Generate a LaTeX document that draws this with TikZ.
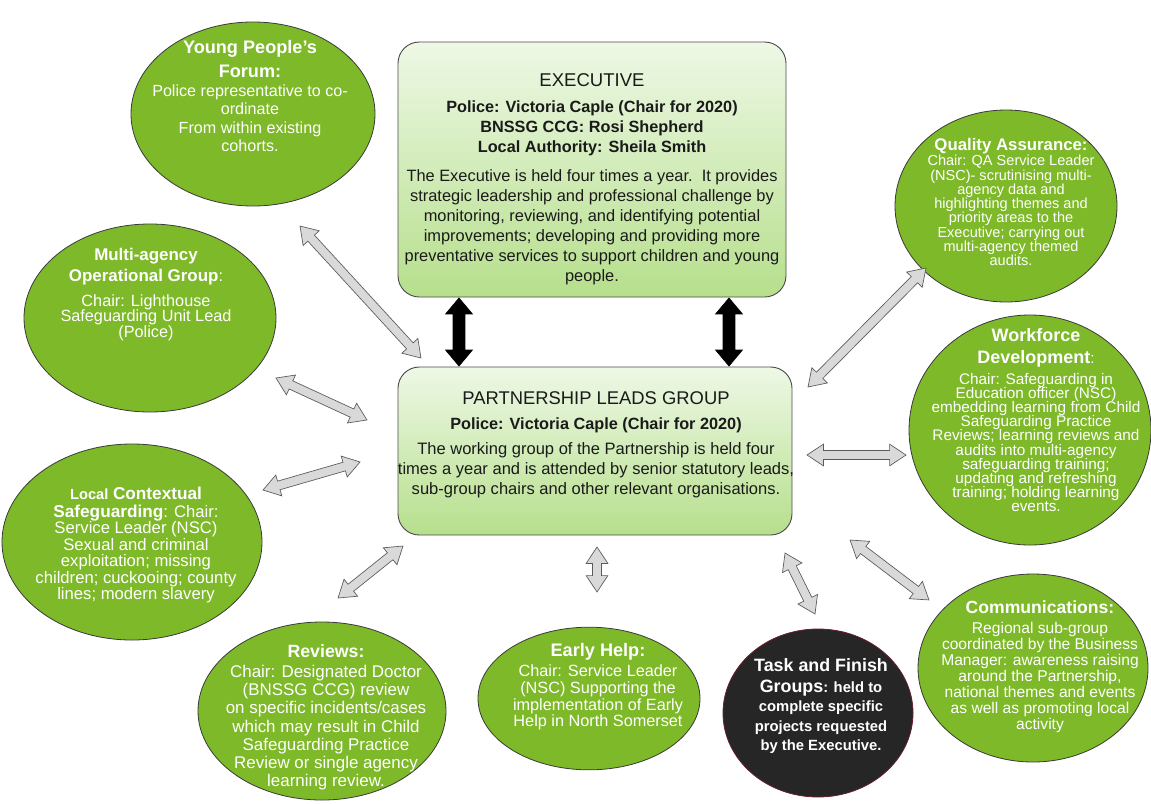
\documentclass[tikz,border=0pt]{standalone}
\usepackage{fontspec}
\setmainfont{Liberation Sans}
\usetikzlibrary{shapes.geometric,shapes.arrows,calc}
\definecolor{egreen}{HTML}{7DB928}
\definecolor{eline}{HTML}{3A3A3A}
\definecolor{tfill}{HTML}{262626}
\definecolor{tline}{HTML}{6A1E2A}
\definecolor{boxtop}{HTML}{EEF8E6}
\definecolor{boxbot}{HTML}{B6DF8C}
\definecolor{boxline}{HTML}{4D4D4D}
\definecolor{arrfill}{HTML}{D9D9D9}
\definecolor{arrline}{HTML}{5A5A5A}
\definecolor{btxt}{HTML}{1A1A1A}
\newcommand\fsz[2]{\fontsize{#1}{#2}\selectfont\lineskiplimit=-20pt\relax}
\newcommand\ttl[2][13.5]{{\bfseries\fontsize{#1}{#1}\selectfont #2}}
\newcommand\blockarrow[4]{%
  \path let \p1=($(#4)-(#3)$), \n1={atan2(\y1,\x1)}, \n2={veclen(\x1,\y1)} in
    node[#1, minimum height=\n2, rotate=\n1] (#2) at ($(#3)!0.5!(#4)$) {};}
\tikzset{
  gellipse/.style={ellipse, draw=eline, line width=0.6pt, fill=egreen, inner sep=0pt},
  etext/.style={text=white, align=center, inner sep=0pt},
  roundbox/.style={draw=boxline, line width=0.7pt, rounded corners=16pt, top color=boxtop, bottom color=boxbot, inner sep=0pt},
  btext/.style={text=btxt, align=center, inner sep=0pt},
  grayarr/.style={double arrow, draw=arrline, fill=arrfill, line width=0.5pt, inner xsep=0pt, inner ysep=3.1pt, minimum width=0pt, double arrow head extend=4.8pt, double arrow tip angle=67, double arrow head indent=0pt},
  blackarr/.style={double arrow, draw=black, fill=black, line width=0.5pt, inner xsep=0pt, inner ysep=4.2pt, minimum width=0pt, double arrow head extend=5.6pt, double arrow tip angle=80, double arrow head indent=0pt},
}
\begin{document}
\begin{tikzpicture}[x=0.75pt,y=-0.75pt]
\useasboundingbox[fill=white] (0,0) rectangle (1151,803);

% boxes
\node[roundbox, minimum width=291pt, minimum height=191.25pt] (exec) at (592,169.5) {};
\node[roundbox, minimum width=295.5pt, minimum height=126pt] (plg) at (595,451) {};

\node[btext, font=\fsz{13.9}{15}] (ex-t) at (592,80) {EXECUTIVE};
\node[btext, font=\bfseries\fsz{12.2}{15}] (ex-b) at (592,128) {Police: Victoria Caple (Chair for 2020)\\BNSSG CCG: Rosi Shepherd\\Local Authority: Sheila Smith};
\node[btext, font=\fsz{12.3}{15}] (ex-d) at (592,227) {The Executive is held four times a year.\ \ It provides\\strategic leadership and professional challenge by\\monitoring, reviewing, and identifying potential\\improvements; developing and providing more\\preventative services to support children and young\\people.};

\node[btext, font=\fsz{13.8}{15}] (pl-t) at (596,398) {PARTNERSHIP LEADS GROUP};
\node[btext, font=\bfseries\fsz{12.2}{15}] (pl-b) at (596,425) {Police: Victoria Caple (Chair for 2020)};
\node[btext, font=\fsz{12.4}{15}] (pl-d) at (596,470) {The working group of the Partnership is held four\\times a year and is attended by senior statutory leads,\\sub-group chairs and other relevant organisations.};

% ellipses
\node[gellipse, minimum width=183pt, minimum height=138pt] (ypf) at (253,114) {};
\node[gellipse, minimum width=189pt, minimum height=141pt] (maog) at (150,318) {};
\node[gellipse, minimum width=166.5pt, minimum height=144pt] (qa) at (1006,206) {};
\node[gellipse, minimum width=181.5pt, minimum height=172.5pt] (wd) at (1030,430) {};
\node[gellipse, minimum width=195pt, minimum height=147pt] (lcs) at (132,542) {};
\node[gellipse, minimum width=186pt, minimum height=133.5pt] (rev) at (322,711) {};
\node[gellipse, minimum width=166.5pt, minimum height=107pt] (eh) at (589,698.5) {};
\node[gellipse, fill=tfill, draw=tline, minimum width=142.5pt, minimum height=126pt] (tf) at (818,713) {};
\node[gellipse, minimum width=172.5pt, minimum height=141pt] (com) at (1033,668) {};

% ellipse texts
\node[etext, font=\fsz{12.1}{13.7}] (ypf-t) at (250,96) {\ttl[13.6]{Young People’s}\\[4.3pt]\ttl[13.6]{Forum:}\\[0.6pt]Police representative to co-\\ordinate\\From within existing\\cohorts.};
\node[etext, font=\fsz{12.2}{11.6}] (maog-t) at (146,294.5) {\ttl[12.7]{Multi-agency}\\[4.1pt]\ttl[12.7]{Operational Group}:\\[7.1pt]Chair: Lighthouse\\Safeguarding Unit Lead\\(Police)};
\node[etext, font=\fsz{10.9}{10.7}] (qa-t) at (1011,202) {\ttl[12.6]{Quality Assurance:}\\[0.8pt]Chair: QA Service Leader\\(NSC)- scrutinising multi-\\agency data and\\highlighting themes and\\priority areas to the\\Executive; carrying out\\multi-agency themed\\audits.};
\node[etext, font=\fsz{11.5}{10.6}] (wd-t) at (1036,420) {\ttl{Workforce}\\[5.9pt]\ttl{Development}:\\[5.2pt]Chair: Safeguarding in\\Education officer (NSC)\\embedding learning from Child\\Safeguarding Practice\\Reviews; learning reviews and\\audits into multi-agency\\safeguarding training;\\updating and refreshing\\training; holding learning\\events.};
\node[etext, font=\fsz{12.5}{12.4}] (lcs-t) at (136,545) {\ttl[11]{Local} \ttl[12.9]{Contextual}\\[1.2pt]\ttl[12.9]{Safeguarding}: Chair:\\Service Leader (NSC)\\Sexual and criminal\\exploitation; missing\\children; cuckooing; county\\lines; modern slavery};
\node[etext, font=\fsz{12.7}{13.7}] (rev-t) at (326,717.5) {\ttl[13.3]{Reviews:}\\[1.3pt]Chair: Designated Doctor\\(BNSSG CCG) review\\on specific incidents/cases\\which may result in Child\\Safeguarding Practice\\Review or single agency\\learning review.};
\node[etext, font=\fsz{12.2}{12.5}] (eh-t) at (598,687) {\ttl[13.6]{Early Help:}\\[2.5pt]Chair: Service Leader\\(NSC) Supporting the\\implementation of Early\\Help in North Somerset};
\node[etext, font=\bfseries\fsz{11.1}{14.4}] (tf-t) at (821,706) {\ttl[13.4]{Task and Finish}\\[1.3pt]\ttl[13.4]{Groups}: held to\\complete specific\\projects requested\\by the Executive.};
\node[etext, font=\fsz{11.7}{12}] (com-t) at (1040,667) {\ttl[13.2]{Communications:}\\[3pt]Regional sub-group\\coordinated by the Business\\Manager: awareness raising\\around the Partnership,\\national themes and events\\as well as promoting local\\activity};

% arrow end points
\coordinate (k1a) at (459,298); \coordinate (k1b) at (459,366);
\coordinate (k2a) at (729,298); \coordinate (k2b) at (729,366);
\coordinate (ypf-a) at (300,226); \coordinate (ypf-b) at (421,358);
\coordinate (maog-a) at (276,378); \coordinate (maog-b) at (367,420);
\coordinate (lcs-a) at (263,490); \coordinate (lcs-b) at (360,462);
\coordinate (rev-a) at (338,598); \coordinate (rev-b) at (403,546);
\coordinate (eh-a) at (597,592); \coordinate (eh-b) at (597,547);
\coordinate (tf-a) at (815,614); \coordinate (tf-b) at (785,553);
\coordinate (com-a) at (929,600); \coordinate (com-b) at (850,540);
\coordinate (wd-a) at (906,455); \coordinate (wd-b) at (807,455);
\coordinate (qa-a) at (926,268); \coordinate (qa-b) at (808,387);

\blockarrow{blackarr}{k1}{k1a}{k1b}
\blockarrow{blackarr}{k2}{k2a}{k2b}
\blockarrow{grayarr}{ypf-arr}{ypf-a}{ypf-b}
\blockarrow{grayarr}{maog-arr}{maog-a}{maog-b}
\blockarrow{grayarr}{lcs-arr}{lcs-a}{lcs-b}
\blockarrow{grayarr}{rev-arr}{rev-a}{rev-b}
\blockarrow{grayarr}{eh-arr}{eh-a}{eh-b}
\blockarrow{grayarr}{tf-arr}{tf-a}{tf-b}
\blockarrow{grayarr}{com-arr}{com-a}{com-b}
\blockarrow{grayarr}{wd-arr}{wd-a}{wd-b}
\blockarrow{grayarr}{qa-arr}{qa-a}{qa-b}
\end{tikzpicture}
\end{document}
